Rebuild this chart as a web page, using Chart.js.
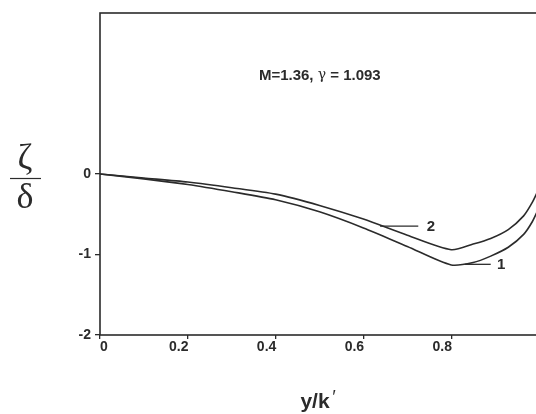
<!DOCTYPE html>
<html>
<head>
<meta charset="utf-8">
<script src="https://cdn.jsdelivr.net/npm/chart.js@4/dist/chart.umd.min.js"></script>
<style>
    html, body { margin: 0; padding: 0; background: #fff; overflow: hidden; }
    #wrap { width: 545px; height: 414px; position: relative; }
</style>
</head>
<body>
<div id="wrap"><canvas id="chart"></canvas></div>
<script>
// values
const xValues = [0, 0.1, 0.2, 0.3, 0.4, 0.5, 0.6, 0.7, 0.8, 0.85, 0.89, 0.93, 0.965, 0.985, 1.0];
const curve1 = [0, -0.06, -0.13, -0.22, -0.32, -0.47, -0.67, -0.90, -1.13, -1.10, -1.02, -0.91, -0.75, -0.59, -0.42];
const curve2 = [0, -0.05, -0.10, -0.17, -0.25, -0.39, -0.56, -0.76, -0.94, -0.87, -0.80, -0.69, -0.52, -0.35, -0.18];
const xTicks = [0, 0.2, 0.4, 0.6, 0.8, 1];
const yTicks = [-2, -1, 0];
const xTickLabels = ['0', '0.2', '0.4', '0.6', '0.8', '1'];

const INK = '#2b2b2b';
const SANS = '"Liberation Sans", Arial, sans-serif';

// curve labels with leader lines, in data units
const curveLabels = [
    { text: '2', x: 0.754, y: -0.652, from: 0.638, to: 0.725, lineY: -0.648 },
    { text: '1', x: 0.914, y: -1.128, from: 0.831, to: 0.890, lineY: -1.122 }
];

const decorations = {
    id: 'decorations',
    afterDraw(chart) {
        const ctx = chart.ctx;
        const a = chart.chartArea;
        const xs = chart.scales.x;
        const ys = chart.scales.y;
        ctx.save();

        // frame
        ctx.strokeStyle = INK;
        ctx.lineWidth = 1.6;
        ctx.strokeRect(a.left, a.top, a.right - a.left, a.bottom - a.top);

        // x tick labels (first and last sit right of their tick)
        ctx.fillStyle = INK;
        ctx.font = 'bold 14px ' + SANS;
        ctx.textAlign = 'center';
        ctx.textBaseline = 'middle';
        xTicks.forEach((v, i) => {
            const off = (i === 0 || i === xTicks.length - 1) ? 4 : -9;
            ctx.fillText(xTickLabels[i], xs.getPixelForValue(v) + off, a.bottom + 12);
        });

        // curve labels
        ctx.lineWidth = 1.3;
        curveLabels.forEach(l => {
            ctx.beginPath();
            ctx.moveTo(xs.getPixelForValue(l.from), ys.getPixelForValue(l.lineY));
            ctx.lineTo(xs.getPixelForValue(l.to), ys.getPixelForValue(l.lineY));
            ctx.stroke();
            ctx.font = 'bold 15px ' + SANS;
            ctx.fillText(l.text, xs.getPixelForValue(l.x), ys.getPixelForValue(l.y));
        });

        // parameter note
        let px = xs.getPixelForValue(0.362);
        const py = ys.getPixelForValue(1.22);
        ctx.textAlign = 'left';
        const parts = [
            ['M=1.36, ', 'bold 15px ' + SANS],
            ['\u03B3', '14px "DejaVu Serif", serif'],
            [' = 1.093', 'bold 15px ' + SANS]
        ];
        parts.forEach(p => {
            ctx.font = p[1];
            ctx.fillText(p[0], px, py);
            px += ctx.measureText(p[0]).width;
        });

        // y title: zeta over delta
        ctx.textAlign = 'center';
        ctx.font = '36px "Liberation Serif", "Times New Roman", serif';
        ctx.fillText('\u03B6', 25, 160);
        ctx.fillText('\u03B4', 25, 199);
        ctx.lineWidth = 1.2;
        ctx.beginPath();
        ctx.moveTo(10, 178.5);
        ctx.lineTo(41, 178.5);
        ctx.stroke();

        // x title
        ctx.textAlign = 'left';
        ctx.textBaseline = 'alphabetic';
        ctx.font = 'bold 21px ' + SANS;
        const t = 'y/k';
        const tw = ctx.measureText(t).width;
        const tx = 318 - tw / 2 - 3;
        ctx.fillText(t, tx, 408);
        ctx.font = 'italic 18px ' + SANS;
        ctx.fillText('\u2032', tx + tw + 2, 403);

        ctx.restore();
    }
};

const ctx = document.getElementById('chart').getContext('2d');
new Chart(ctx, {
    type: 'line',
    data: {
        datasets: [
            {
                label: '1',
                data: xValues.map((x, i) => ({ x: x, y: curve1[i] })),
                borderColor: INK,
                borderWidth: 1.6,
                pointRadius: 0,
                tension: 0.25,
                fill: false
            },
            {
                label: '2',
                data: xValues.map((x, i) => ({ x: x, y: curve2[i] })),
                borderColor: INK,
                borderWidth: 1.6,
                pointRadius: 0,
                tension: 0.25,
                fill: false
            }
        ]
    },
    options: {
        responsive: true,
        maintainAspectRatio: false,
        animation: false,
        layout: { padding: { top: 13, right: 6, left: 0, bottom: 0 } },
        plugins: {
            legend: { display: false },
            tooltip: { enabled: false }
        },
        scales: {
            x: {
                type: 'linear',
                min: 0,
                max: 1,
                afterBuildTicks: s => { s.ticks = xTicks.map(v => ({ value: v })); },
                afterFit: s => { s.height = 79; },
                border: { display: false },
                grid: { drawOnChartArea: false, drawTicks: true, tickLength: 4, color: INK, lineWidth: 1.3 },
                ticks: { display: false }
            },
            y: {
                type: 'linear',
                min: -2,
                max: 2,
                afterBuildTicks: s => { s.ticks = yTicks.map(v => ({ value: v })); },
                afterFit: s => { s.width = 100; },
                border: { display: false },
                grid: { drawOnChartArea: false, drawTicks: true, tickLength: 5, color: INK, lineWidth: 1.3 },
                ticks: {
                    color: INK,
                    padding: 4,
                    font: { family: SANS, size: 14, weight: 'bold' }
                }
            }
        }
    },
    plugins: [decorations]
});
</script>
</body>
</html>
